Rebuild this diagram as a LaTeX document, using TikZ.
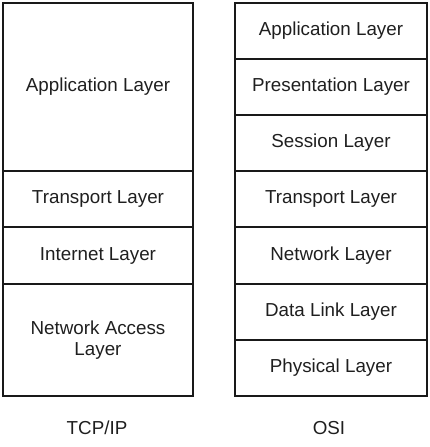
\documentclass[tikz,border=0pt]{standalone}
\usepackage{fontspec}
\setmainfont{Liberation Sans}
\begin{document}
\begin{tikzpicture}[x=1pt,y=-1pt,
  layer/.style={draw=black!90,line width=2pt,inner sep=0pt,align=center,
    font=\fontsize{18.8}{21.5}\selectfont,text=black!88,minimum width=#1},
  caption/.style={font=\fontsize{18.8}{21.5}\selectfont,text=black!88}]
\useasboundingbox (0,0) rectangle (429,447);
% TCP/IP stack (x 3..193)
\node[layer=190pt,minimum height=168pt] (tapp) at (98,87) {Application Layer};
\node[layer=190pt,minimum height=56pt] (ttra) at (98,199) {Transport Layer};
\node[layer=190pt,minimum height=57pt] (tint) at (98,255.5) {Internet Layer};
\node[layer=190pt,minimum height=112pt] (tnet) at (98,340) {Network Access\\Layer};
% OSI stack (x 235..427)
\node[layer=192pt,minimum height=56pt] (oapp) at (331,31) {Application Layer};
\node[layer=192pt,minimum height=56pt] (opre) at (331,87) {Presentation Layer};
\node[layer=192pt,minimum height=56pt] (oses) at (331,143) {Session Layer};
\node[layer=192pt,minimum height=56pt] (otra) at (331,199) {Transport Layer};
\node[layer=192pt,minimum height=57pt] (onet) at (331,255.5) {Network Layer};
\node[layer=192pt,minimum height=56pt] (odat) at (331,312) {Data Link Layer};
\node[layer=192pt,minimum height=56pt] (ophy) at (331,368) {Physical Layer};
\node[caption] (ltcp) at (97,428) {TCP/IP};
\node[caption] (losi) at (329,428) {OSI};
\end{tikzpicture}
\end{document}
